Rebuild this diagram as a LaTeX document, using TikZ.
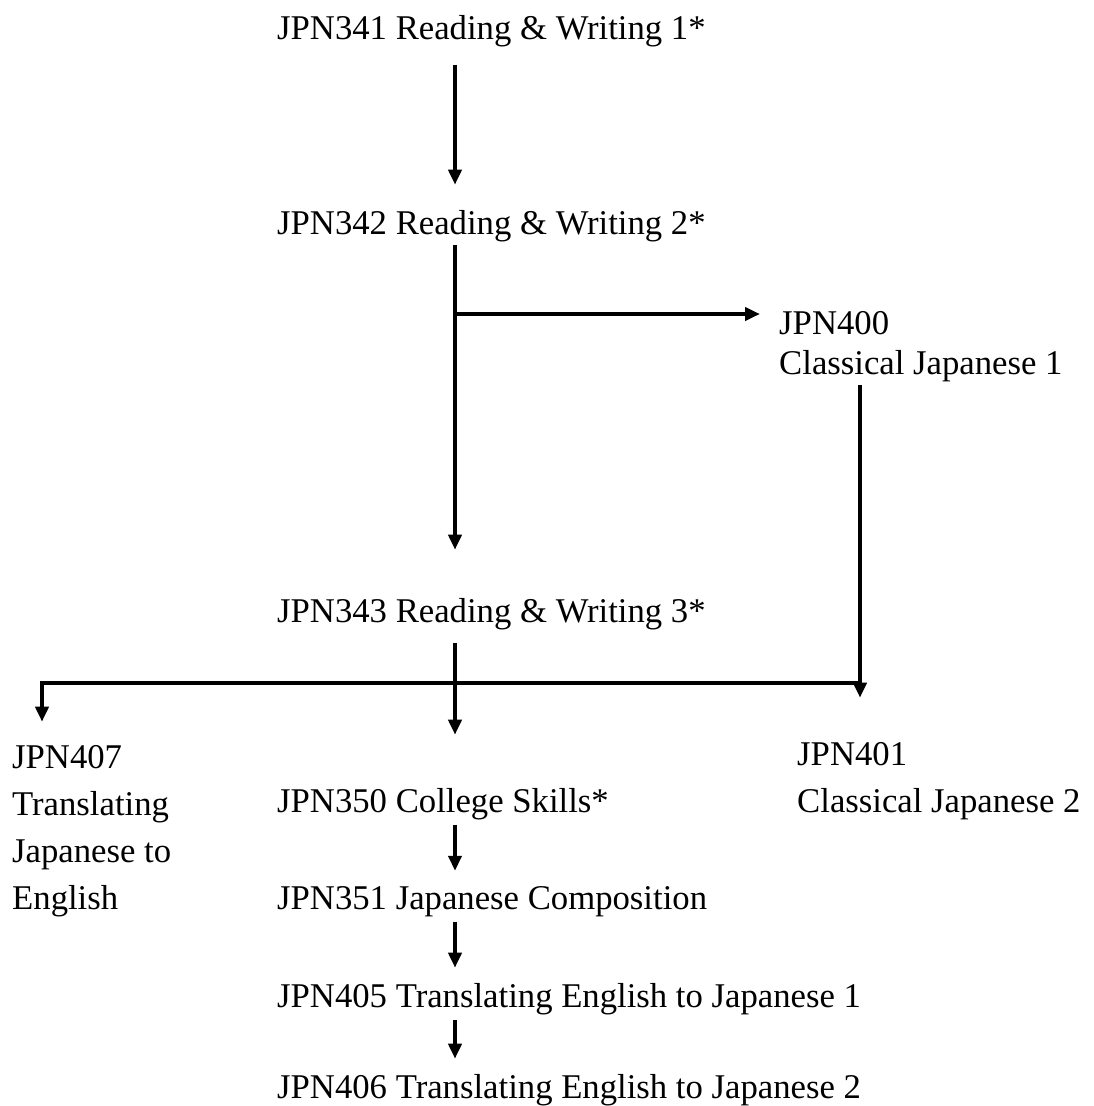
\documentclass[tikz,border=0pt]{standalone}
\usepackage{fontspec}
\setmainfont{Liberation Serif}
\usetikzlibrary{arrows.meta}

\begin{document}
\begin{tikzpicture}[x=1pt,y=-1pt,
        course/.style={anchor=base west, inner sep=0pt, align=left, font=\fontsize{34.7}{47}\selectfont},
        flow/.style={line width=4.5pt, -{Triangle[length=15pt,width=13pt]}}]
        \useasboundingbox (0,0) rectangle (1093,1106);

        % Define the lanes of the connectors
        \coordinate (spine) at (455,0);
        \coordinate (lane) at (42,0);
        \coordinate (drop) at (860,0);
        \coordinate (fork) at (0,314);
        \coordinate (bar) at (0,683);

        % Add the courses (multi-line ones sit on their last line)
        \node[course] (n341) at (277,39) {JPN341 Reading \& Writing 1*};
        \node[course] (n342) at (277,234) {JPN342 Reading \& Writing 2*};
        \node[course, font=\fontsize{34.7}{40}\selectfont] (n400) at (779,374) {JPN400\\Classical Japanese 1};
        \node[course] (n343) at (277,622) {JPN343 Reading \& Writing 3*};
        \node[course] (n407) at (12,909) {JPN407\\Translating\\Japanese to\\English};
        \node[course] (n401) at (797,812) {JPN401\\Classical Japanese 2};
        \node[course] (n350) at (277,812) {JPN350 College Skills*};
        \node[course] (n351) at (277,909) {JPN351 Japanese Composition};
        \node[course] (n405) at (277,1007) {JPN405 Translating English to Japanese 1};
        \node[course] (n406) at (277,1098) {JPN406 Translating English to Japanese 2};

        % Draw the connectors
        \draw[flow, shorten <=18pt, shorten >=25pt] (n341.south -| spine) -- (n342.north -| spine);
        \draw[flow, shorten <=3pt, shorten >=48pt] (n342.south -| spine) -- (n343.north -| spine);
        \draw[flow, shorten >=19pt] (spine |- fork) -- (n400.west |- fork);
        \draw[flow, shorten <=3pt, shorten >=44pt] (n400.south -| drop) -- (n401.north -| drop);
        \draw[flow, shorten >=23pt] (drop |- bar) -- (lane |- bar) -- (n407.north -| lane);
        \draw[flow, shorten <=13pt, shorten >=53pt] (n343.south -| spine) -- (n350.north -| spine);
        \foreach \a/\b in {n350/n351, n351/n405, n405/n406}
            \draw[flow, shorten <=5pt, shorten >=15pt] (\a.south -| spine) -- (\b.north -| spine);
\end{tikzpicture}
\end{document}
